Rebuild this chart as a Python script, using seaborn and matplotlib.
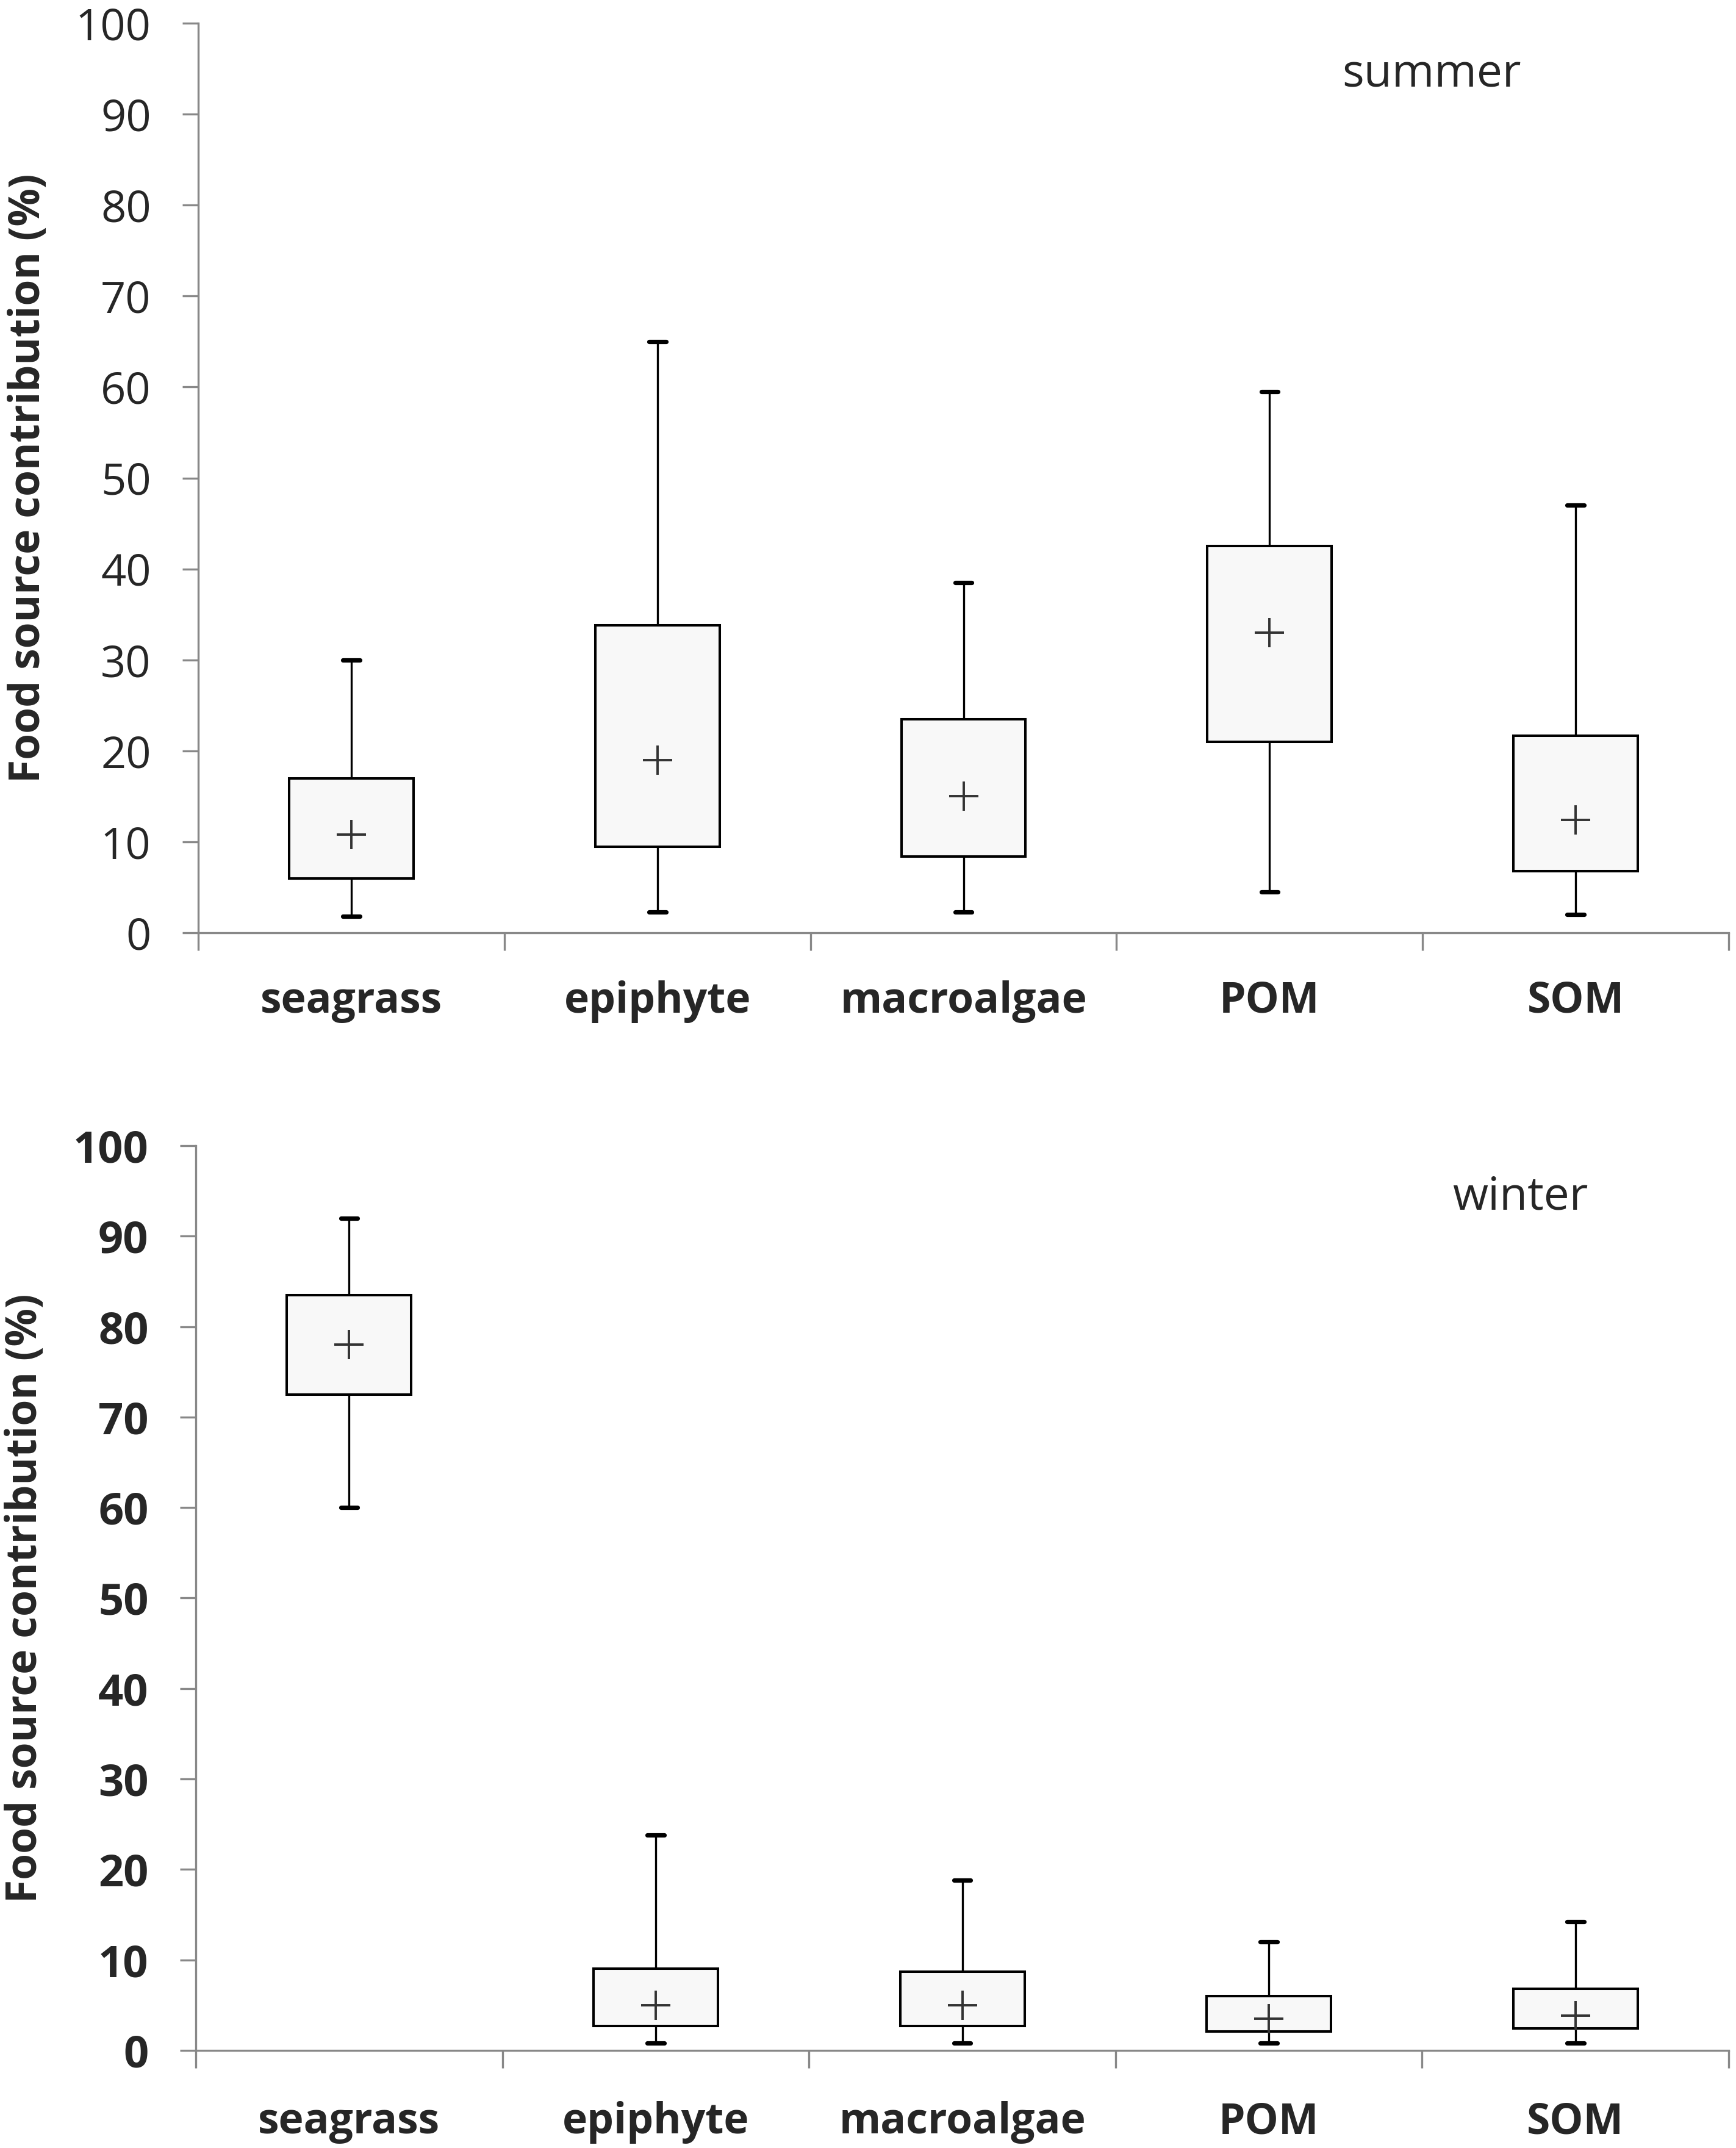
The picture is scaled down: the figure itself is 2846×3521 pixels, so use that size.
import pandas as pd
import seaborn as sns
import matplotlib.pyplot as plt
from matplotlib.ticker import FixedLocator, MultipleLocator

fuentes = ["seagrass", "epiphyte", "macroalgae", "POM", "SOM"]

# summer
summer_min = [1.8, 2.3, 2.3, 4.5, 2.0]
summer_q1 = [6.0, 9.5, 8.4, 21.0, 6.8]
summer_q3 = [17.0, 33.8, 23.5, 42.5, 21.7]
summer_max = [30.0, 65.0, 38.5, 59.5, 47.0]
summer_media = [10.8, 19.0, 15.0, 33.0, 12.4]

# winter
winter_min = [60.0, 0.8, 0.8, 0.8, 0.8]
winter_q1 = [72.5, 2.7, 2.7, 2.1, 2.4]
winter_q3 = [83.5, 9.0, 8.7, 6.0, 6.8]
winter_max = [92.0, 23.8, 18.8, 12.0, 14.2]
winter_media = [78.0, 5.0, 5.0, 3.5, 3.8]


def tabla(mins, q1s, q3s, maxs, medias):
    # cinco valores por fuente: min, q1, (centro), q3, max
    filas = []
    for f, a, b, c, d, m in zip(fuentes, mins, q1s, q3s, maxs, medias):
        for v in [a, b, m, c, d]:
            filas.append({"fuente": f, "valor": v})
    return pd.DataFrame(filas)


sns.set_style("white")
plt.rcParams["font.family"] = ["Open Sans", "DejaVu Sans"]

fig = plt.figure(figsize=(14.23, 17.605), dpi=200)
ax1 = fig.add_axes([0.1142, 0.5657, 0.8816, 0.4235])
ax2 = fig.add_axes([0.1128, 0.0455, 0.8830, 0.4211])

paneles = [
    (ax1, tabla(summer_min, summer_q1, summer_q3, summer_max, summer_media), summer_media,
     "summer", 3.53, "normal", 28),
    (ax2, tabla(winter_min, winter_q1, winter_q3, winter_max, winter_media), winter_media,
     "winter", 3.82, "bold", 30),
]

gris = "#888888"

for ax, df, medias, titulo, xt, peso_y, pad_x in paneles:
    sns.boxplot(
        data=df, x="fuente", y="valor", order=fuentes, ax=ax,
        whis=(0, 100), width=0.406, color="#f8f8f8", linecolor="black",
        linewidth=1.45, showfliers=False,
        medianprops={"visible": False},
        whiskerprops={"linewidth": 1.2},
        capprops={"linewidth": 2.6},
        capwidths=0.055,
    )
    sns.scatterplot(
        x=fuentes, y=medias, ax=ax, marker="+", s=290, color="#333333",
        linewidth=1.4, zorder=5, legend=False,
    )
    ax.set_xlim(-0.5, 4.5)
    ax.set_ylim(0, 100)
    ax.yaxis.set_major_locator(MultipleLocator(10))
    ax.xaxis.set_minor_locator(FixedLocator([-0.5, 0.5, 1.5, 2.5, 3.5, 4.5]))
    sns.despine(ax=ax)
    for s in ["left", "bottom"]:
        ax.spines[s].set_color(gris)
        ax.spines[s].set_linewidth(1.2)
    ax.tick_params(axis="y", length=9.4, width=1.2, color=gris, pad=18.5,
                   labelsize=26, left=True)
    ax.tick_params(axis="x", which="major", length=0, pad=pad_x, labelsize=25)
    ax.tick_params(axis="x", which="minor", length=10.5, width=1.2, color=gris,
                   bottom=True, direction="out")
    for lab in ax.get_xticklabels():
        lab.set_fontweight("bold")
    for lab in ax.get_yticklabels():
        lab.set_fontweight(peso_y)
    ax.set_xlabel("")
    ax.set_ylabel("Food source contribution (%)", fontsize=25, fontweight="bold")
    ax.yaxis.set_label_coords(-0.097, 0.5)
    ax.text(xt, 94.3, titulo, fontsize=27, ha="center", va="center")

fig.savefig("out.png", dpi=200, facecolor="white")
